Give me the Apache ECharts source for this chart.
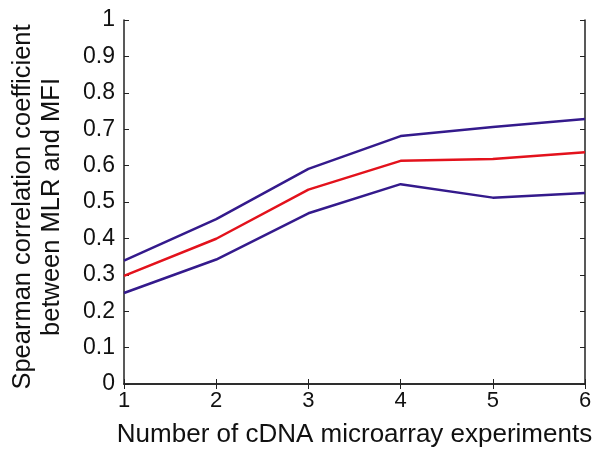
<!DOCTYPE html>
<html>
<head>
<meta charset="utf-8">
<script src="https://cdn.jsdelivr.net/npm/echarts@6/dist/echarts.min.js"></script>
<style>
  html, body { margin: 0; padding: 0; background: #fff; }
  #chart { width: 600px; height: 473px; }
</style>
</head>
<body>
<div id="chart"></div>
<script>
// number of experiments (x) and the three curves
const experiments = [1, 2, 3, 4, 5, 6];
const upperBound = [0.339, 0.453, 0.591, 0.681, 0.706, 0.728];
const meanCorr   = [0.297, 0.399, 0.534, 0.613, 0.618, 0.637];
const lowerBound = [0.250, 0.342, 0.469, 0.549, 0.512, 0.525];

const font = "'Liberation Sans', Arial, sans-serif";
const purple = "#341a8c";
const red = "#e3121c";

function pairs(ys) {
  return experiments.map((x, i) => [x, ys[i]]);
}

const chart = echarts.init(document.getElementById("chart"));

// MATLAB style box: ticks inward on all four sides
const tickStyle = { show: true, inside: true, length: 5, lineStyle: { color: "#222", width: 1 } };
const lineAx = { show: true, lineStyle: { color: "#222", width: 1.5 } };

const option = {
  animation: false,
  grid: { left: 122, right: 15, top: 20, bottom: 89 },
  xAxis: [
    {
      type: "value", min: 1, max: 6, interval: 1,
      axisLine: lineAx, axisTick: tickStyle, splitLine: { show: false },
      axisLabel: { fontSize: 22, color: "#111", fontFamily: font, margin: 6 },
      name: "Number of cDNA microarray experiments",
      nameLocation: "middle", nameGap: 38,
      nameTextStyle: { fontSize: 26, color: "#111", fontFamily: font }
    },
    {
      type: "value", min: 1, max: 6, interval: 1, position: "top",
      axisLine: lineAx, axisTick: tickStyle, axisLabel: { show: false }, splitLine: { show: false }
    }
  ],
  yAxis: [
    {
      type: "value", min: 0, max: 1, interval: 0.1,
      axisLine: lineAx, axisTick: tickStyle, splitLine: { show: false },
      axisLabel: { fontSize: 23, color: "#111", fontFamily: font, margin: 9,
        formatter: v => (Math.round(v * 10) / 10).toString() },
      name: "Spearman correlation coefficient\nbetween MLR and MFI",
      nameLocation: "middle", nameGap: 58,
      nameTextStyle: { fontSize: 25.5, color: "#111", fontFamily: font, lineHeight: 29,
        padding: [0, 10, 0, 0] }
    },
    {
      type: "value", min: 0, max: 1, interval: 0.1, position: "right",
      axisLine: lineAx, axisTick: tickStyle, axisLabel: { show: false }, splitLine: { show: false }
    }
  ],
  series: [
    { name: "upper", type: "line", data: pairs(upperBound), showSymbol: false,
      lineStyle: { color: purple, width: 2.5 } },
    { name: "mean", type: "line", data: pairs(meanCorr), showSymbol: false,
      lineStyle: { color: red, width: 2.5 } },
    { name: "lower", type: "line", data: pairs(lowerBound), showSymbol: false,
      lineStyle: { color: purple, width: 2.5 } }
  ]
};

chart.setOption(option);
</script>
</body>
</html>
